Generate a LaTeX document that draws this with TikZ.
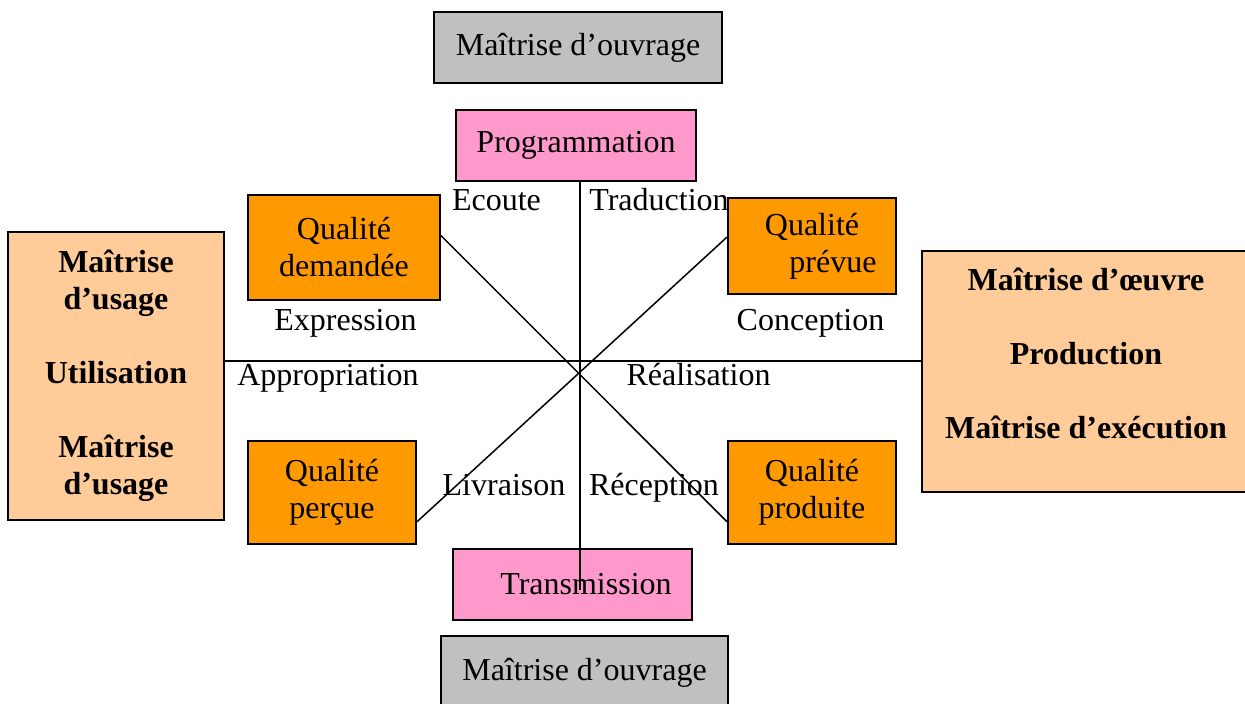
\documentclass[tikz,border=0pt]{standalone}
\usepackage{fontspec}
\setmainfont{Liberation Serif}
\usepackage{tikz}
\usetikzlibrary{positioning}
\definecolor{gris}{HTML}{C0C0C0}
\definecolor{rose}{HTML}{FF99CC}
\definecolor{orange}{HTML}{FF9900}
\definecolor{peche}{HTML}{FFCC99}

\begin{document}
\begin{tikzpicture}[x=0.5pt, y=-0.5pt, line width=0.75pt, font=\fontsize{16}{18.5}\selectfont]
			\tikzstyle{boite}=[draw, line width=1pt, inner sep=0pt, align=center]
			\tikzstyle{etiquette}=[inner sep=0pt, anchor=base]
			
			\useasboundingbox (0,0) rectangle (1245,704);
			
			% les acteurs
			\node[boite, fill=gris, minimum width=144pt, minimum height=35.5pt]  (mo_haut)  at (578,47.5)   {Maîtrise d’ouvrage};
			\node[boite, fill=gris, minimum width=143.5pt, minimum height=37pt]  (mo_bas)   at (584.5,672.5) {Maîtrise d’ouvrage};
			\node[boite, fill=peche, minimum width=108pt, minimum height=144pt, font=\fontsize{16}{18.5}\selectfont\bfseries] (usage) at (116,376)
				{Maîtrise\\d’usage\\[18.5pt]Utilisation\\[18.5pt]Maîtrise\\d’usage};
			\node[boite, fill=peche, minimum width=164pt, minimum height=120.5pt, font=\fontsize{16}{18.5}\selectfont\bfseries] (oeuvre) at (1086,371.5)
				{Maîtrise d’œuvre\\[18.5pt]Production\\[18.5pt]Maîtrise d’exécution\\ \mbox{}};
			
			% les phases
			\node[boite, fill=rose, minimum width=120pt, minimum height=35.5pt]   (prog)   at (576,145.5)  {Programmation};
			\node[boite, fill=rose, minimum width=119.5pt, minimum height=35.5pt] (trans)  at (572.5,584.5) {\hspace*{13.5pt}Transmission};
			
			% les qualites
			\node[boite, fill=orange, minimum width=96pt, minimum height=52.5pt]  (demandee) at (344,247.5) {Qualité\\demandée};
			\node[boite, fill=orange, minimum width=84pt, minimum height=48pt]    (prevue)   at (812,246)   {Qualité\\\hspace*{21pt}prévue};
			\node[boite, fill=orange, minimum width=84pt, minimum height=51.5pt]  (percue)   at (332,492.5) {Qualité\\perçue};
			\node[boite, fill=orange, minimum width=84pt, minimum height=51.5pt]  (produite) at (812,492.5) {Qualité\\produite};
			
			\coordinate (centre) at (580,361);
			\coordinate (fin)    at (580,590);
			
			\draw (prog.south -| fin) -- (fin);
			\draw (centre -| usage.east) -- (centre -| oeuvre.west);
			\draw (demandee.7) -- (produite.199);
			\draw (percue.-19) -- (prevue.174);
			
			% les flux (posés sur leur ligne de base)
			\node[etiquette] (ecoute)        at (496.5,211) {Ecoute};
			\node[etiquette] (traduction)    at (659,211)   {Traduction};
			\node[etiquette] (expression)    at (345.5,331) {Expression};
			\node[etiquette] (conception)    at (810.5,331) {Conception};
			\node[etiquette] (appropriation) at (328,386)   {Appropriation};
			\node[etiquette] (realisation)   at (698.5,386) {Réalisation};
			\node[etiquette] (livraison)     at (504,495)   {Livraison};
			\node[etiquette] (reception)     at (654,495)   {Réception};
		\end{tikzpicture}
\end{document}
